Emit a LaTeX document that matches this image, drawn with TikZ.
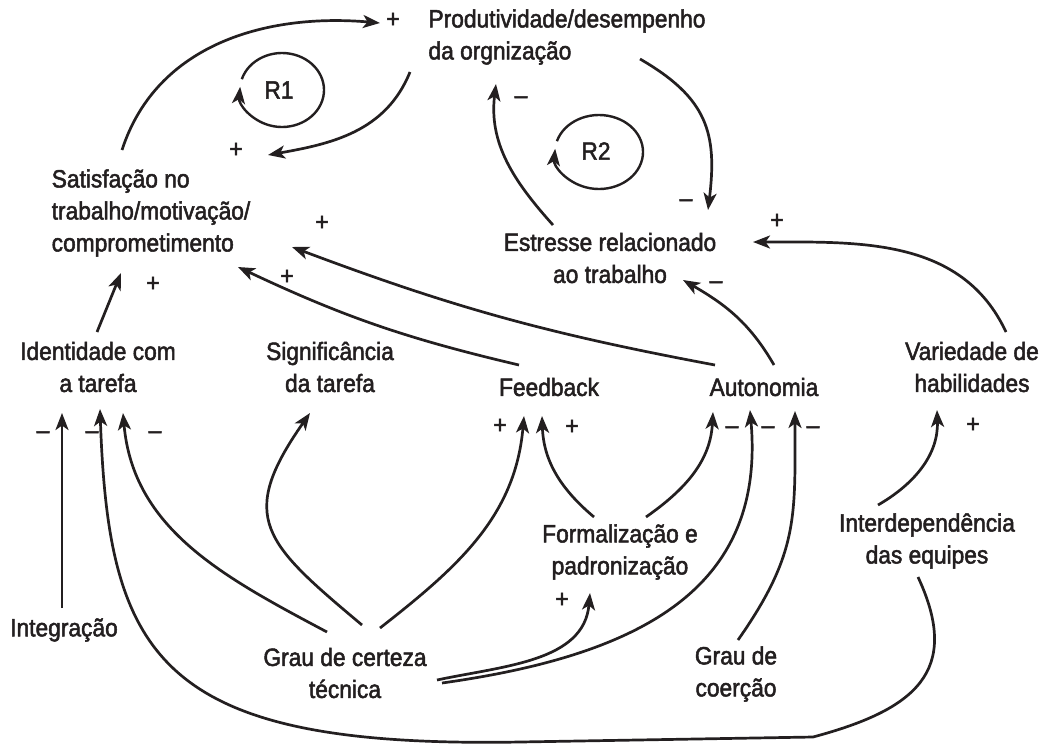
\documentclass[tikz,border=0pt]{standalone}
\usepackage{fontspec}
\setmainfont{Liberation Sans}[FakeStretch=0.91,FakeBold=2]
\usetikzlibrary{arrows.meta}
\definecolor{ink}{HTML}{231F20}

\begin{document}
\begin{tikzpicture}
[x=1pt,y=1pt,color=ink,%
  varNode/.style={align=center,inner sep=0pt,font=\fontsize{25}{32}\selectfont},%
  leftNode/.style={varNode,align=left},%
  signNode/.style={inner sep=0pt,font=\fontsize{25}{32}\selectfont},%
  causalLink/.style={-{Stealth[length=17pt,width=13pt,inset=4.5pt]},line width=2.7pt},%
  loopLine/.style={causalLink,line width=2.4pt}]
\useasboundingbox (0,0) rectangle (1043,-745);
%% the variables
\node[leftNode] (prod) at (567,-37) {Produtividade/desempenho\\da orgnização};
\node[leftNode] (sat) at (151,-213) {Satisfação no\\trabalho/motivação/\\comprometimento};
\node[varNode] (est) at (610,-258) {Estresse relacionado\\ao trabalho};
\node[varNode] (ident) at (98,-367) {Identidade com\\a tarefa};
\node[varNode] (sig) at (330,-367) {Significância\\da tarefa};
\node[varNode] (feed) at (549,-387) {Feedback};
\node[varNode] (aut) at (764,-387) {Autonomia};
\node[varNode] (vari) at (972,-367) {Variedade de\\habilidades};
\node[varNode] (form) at (620,-552) {Formalização e\\padronização};
\node[varNode] (inter) at (927,-541) {Interdependência\\das equipes};
\node[varNode] (integ) at (64,-630) {Integração};
\node[varNode] (cert) at (345,-673) {Grau de certeza\\técnica};
\node[varNode] (coer) at (736,-674) {Grau de\\coerção};
\node[varNode] (r1) at (279,-90) {R1};
\node[varNode] (r2) at (596,-151) {R2};
%% polarity of the links
\foreach \x/\y/\s [count=\i] in {393/20/+, 236/150/+, 322/223/+, 287/277/+, 153/284/+,
  521/100/--, 686/203/--, 777/221/+, 716/285/--, 43/435/--, 92/435/--, 155/435/--,
  500/426/+, 572/427/+, 732/430/--, 768/430/--, 813/430/--, 973/425/+, 562/600/+}
{
  \node[signNode] (sign\i) at (\x,-\y) {\s};
}
%% the two loops
\draw[loopLine] ([xshift=3pt,shift={(163:42 and 37)}]r1.center) arc[start angle=163,end angle=-185,x radius=42,y radius=37];
\draw[loopLine] ([xshift=3pt,yshift=-1pt,shift={(163:44 and 37)}]r2.center) arc[start angle=163,end angle=-185,x radius=44,y radius=37];
%% links
\draw[causalLink] ([shift={(-29,63)}]sat.center) to[out=72,in=175] ([shift={(-187,14)}]prod.center);
\draw[causalLink] ([shift={(-157,-35)}]prod.center) to[out=-112,in=10] ([shift={(117,58)}]sat.center);
\draw[causalLink] ([shift={(73,-22)}]prod.center) to[out=-30,in=83,looseness=1.2] ([shift={(98,48)}]est.center);
\draw[causalLink] ([shift={(-57,33)}]est.center) to[out=132,in=-97] ([shift={(-71,-47)}]prod.center);
\draw[causalLink] ([shift={(-1,35)}]ident.center) -- ([shift={(-30,-60)}]sat.center);
\draw[causalLink] ([shift={(-30,22)}]feed.center) to[bend left=6] ([shift={(87,-54)}]sat.center);
\draw[causalLink] ([shift={(-49,22)}]aut.center) to[bend left=5] ([shift={(141,-34)}]sat.center);
\draw[causalLink] ([shift={(10,22)}]aut.center) to[out=120,in=-30] ([shift={(73,-22)}]est.center);
\draw[causalLink] ([shift={(34,35)}]vari.center) to[out=115,in=0] ([shift={(143,16)}]est.center);
\draw[causalLink] ([shift={(-2,22)}]integ.center) -- ([shift={(-36,-46)}]ident.center);
\draw[causalLink] ([shift={(-18,41)}]cert.center) to[out=152,in=-85] ([shift={(25,-46)}]ident.center);
\coordinate (bend1) at (813,-737);
\coordinate (bend2) at (520,-742);
\draw[causalLink] ([shift={(-9,-36)}]inter.center) to[out=-65,in=15,looseness=1.4] (bend1) -- (bend2)
  to[out=181,in=-88,out distance=360pt,in distance=250pt] ([shift={(2,-42)}]ident.center);
\draw[causalLink] ([shift={(17,48)}]cert.center) to[out=140,in=-125,looseness=1.5] ([shift={(-20,-46)}]sig.center);
\draw[causalLink] ([shift={(35,45)}]cert.center) to[out=38,in=-95] ([shift={(-25,-29)}]feed.center);
\draw[causalLink] ([shift={(-26,35)}]form.center) to[out=140,in=-88] ([shift={(-7,-29)}]feed.center);
\draw[causalLink] ([shift={(26,35)}]form.center) to[out=35,in=-93] ([shift={(-51,-25)}]aut.center);
\draw[causalLink] ([shift={(97,-10)}]cert.center) to[out=8,in=-85,out distance=200pt,in distance=180pt] ([shift={(-14,-23)}]aut.center);
\draw[causalLink] ([shift={(92,-7)}]cert.center) to[out=12,in=-95] ([shift={(-30,-41)}]form.center);
\draw[causalLink] ([shift={(2,34)}]coer.center) to[out=55,in=-90,looseness=1.15] ([shift={(31,-24)}]aut.center);
\draw[causalLink] ([shift={(-49,36)}]inter.center) to[out=30,in=-88] ([shift={(-35,-43)}]vari.center);
\end{tikzpicture}
\end{document}
